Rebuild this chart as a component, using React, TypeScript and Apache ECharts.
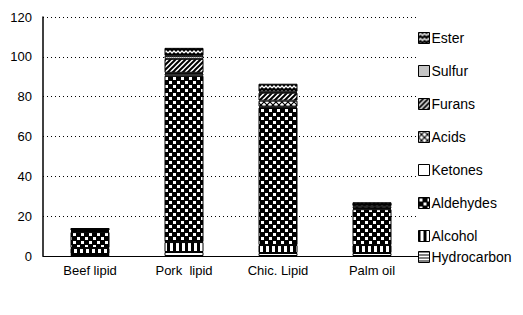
import React, { useEffect, useRef } from "react";
import * as echarts from "echarts";

const categories = ["Beef lipid", "Pork  lipid", "Chic. Lipid", "Palm oil"];
const seriesNames = ["Hydrocarbon", "Alcohol", "Aldehydes", "Ketones", "Acids", "Furans", "Sulfur", "Ester"];
const hydrocarbon = [1, 2, 1.5, 1.5];
const alcohol = [3, 5, 4, 4];
const aldehydes = [8, 83.5, 69, 18];
const ketones = [0.5, 1, 0.5, 0.5];
const acids = [0.5, 0.5, 3, 1];
const furans = [0.5, 7, 4, 1];
const sulfur = [0, 1.5, 0.5, 0];
const ester = [0.5, 4, 4, 1];
const yTicks = [0, 20, 40, 60, 80, 100, 120];

const valuesList = [hydrocarbon, alcohol, aldehydes, ketones, acids, furans, sulfur, ester];

function tile(w: number, h: number, draw: (c: CanvasRenderingContext2D) => void) {
  const cv = document.createElement("canvas");
  cv.width = w;
  cv.height = h;
  const c = cv.getContext("2d")!;
  draw(c);
  return { image: cv.toDataURL(), repeat: "repeat", imageWidth: w, imageHeight: h };
}

function makePatterns() {
  const hydro = tile(4, 3, (c) => {
    c.fillStyle = "#fff"; c.fillRect(0, 0, 4, 3);
    c.fillStyle = "#000"; c.fillRect(0, 0, 4, 1);
  });
  const alc = tile(6, 4, (c) => {
    c.fillStyle = "#000"; c.fillRect(0, 0, 6, 4);
    c.fillStyle = "#fff"; c.fillRect(2, 0, 3, 4);
  });
  const ald = tile(8, 8, (c) => {
    c.fillStyle = "#000"; c.fillRect(0, 0, 8, 8);
    c.fillStyle = "#fff";
    c.fillRect(1, 1, 3, 3);
    c.fillRect(5, 5, 3, 3);
  });
  const ket = tile(4, 4, (c) => {
    c.fillStyle = "#fff"; c.fillRect(0, 0, 4, 4);
  });
  const acid = tile(6, 6, (c) => {
    c.fillStyle = "#fff"; c.fillRect(0, 0, 6, 6);
    c.strokeStyle = "#000"; c.lineWidth = 1.2;
    c.beginPath();
    c.moveTo(0, 0); c.lineTo(6, 6);
    c.moveTo(6, 0); c.lineTo(0, 6);
    c.stroke();
  });
  const fur = tile(5, 5, (c) => {
    c.fillStyle = "#fff"; c.fillRect(0, 0, 5, 5);
    c.strokeStyle = "#000"; c.lineWidth = 2;
    c.beginPath();
    c.moveTo(-1, 6); c.lineTo(6, -1);
    c.moveTo(-1, 1); c.lineTo(1, -1);
    c.moveTo(4, 6); c.lineTo(6, 4);
    c.stroke();
  });
  const sul = tile(2, 2, (c) => {
    c.fillStyle = "#fff"; c.fillRect(0, 0, 2, 2);
    c.fillStyle = "#555"; c.fillRect(0, 0, 1, 1);
    c.fillStyle = "#bbb"; c.fillRect(1, 1, 1, 1);
  });
  const est = tile(8, 5, (c) => {
    c.fillStyle = "#000"; c.fillRect(0, 0, 8, 5);
    c.strokeStyle = "#fff"; c.lineWidth = 1.3;
    c.beginPath();
    c.moveTo(0, 3); c.lineTo(2, 1); c.lineTo(4, 3); c.lineTo(6, 1); c.lineTo(8, 3);
    c.stroke();
  });
  return [hydro, alc, ald, ket, acid, fur, sul, est];
}

export default function App() {
  const ref = useRef<HTMLDivElement>(null);
  useEffect(() => {
    if (!ref.current) return;
    const chart = echarts.init(ref.current, null, { renderer: "svg" });
    const patterns = makePatterns();
    const font = "Liberation Sans";
    const series = seriesNames.map((name, i) => ({
      name,
      type: "bar",
      stack: "total",
      barWidth: 39,
      data: valuesList[i],
      itemStyle: { color: patterns[i] as any, borderColor: "#000", borderWidth: 1 },
    }));
    const legendText = { fontFamily: font, fontSize: 14, color: "#000", padding: [0, 0, 0, -3] };
    chart.setOption({
      animation: false,
      backgroundColor: "#fff",
      grid: { left: 43, right: 104, top: 17, bottom: 59, containLabel: false },
      legend: [
        {
          data: ["Ester", "Sulfur", "Furans", "Acids", "Ketones", "Aldehydes", "Alcohol"],
          orient: "vertical",
          left: 413,
          top: 26,
          itemWidth: 11,
          itemHeight: 11,
          itemGap: 19,
          icon: "rect",
          textStyle: legendText,
          itemStyle: { borderColor: "#000", borderWidth: 1 },
        },
        {
          data: ["Hydrocarbon"],
          orient: "vertical",
          left: 413,
          top: 245,
          itemWidth: 11,
          itemHeight: 11,
          icon: "rect",
          textStyle: legendText,
          itemStyle: { borderColor: "#000", borderWidth: 1 },
        },
      ],
      xAxis: {
        type: "category",
        data: categories,
        axisLine: { lineStyle: { color: "#000", width: 1 } },
        axisTick: { show: false },
        axisLabel: { color: "#000", fontFamily: font, fontSize: 13, margin: 8 },
      },
      yAxis: {
        type: "value",
        min: yTicks[0],
        max: yTicks[yTicks.length - 1],
        interval: 20,
        axisLine: { show: true, lineStyle: { color: "#000", width: 1.5 } },
        axisTick: { show: false },
        axisLabel: { color: "#000", fontFamily: font, fontSize: 13, margin: 11 },
        splitLine: { show: true, lineStyle: { color: "#000", type: [1, 3], width: 1 } },
      },
      series,
    });
    return () => chart.dispose();
  }, []);
  return <div ref={ref} style={{ width: 523, height: 315, position: "absolute", left: 0, top: 0 }} />;
}
